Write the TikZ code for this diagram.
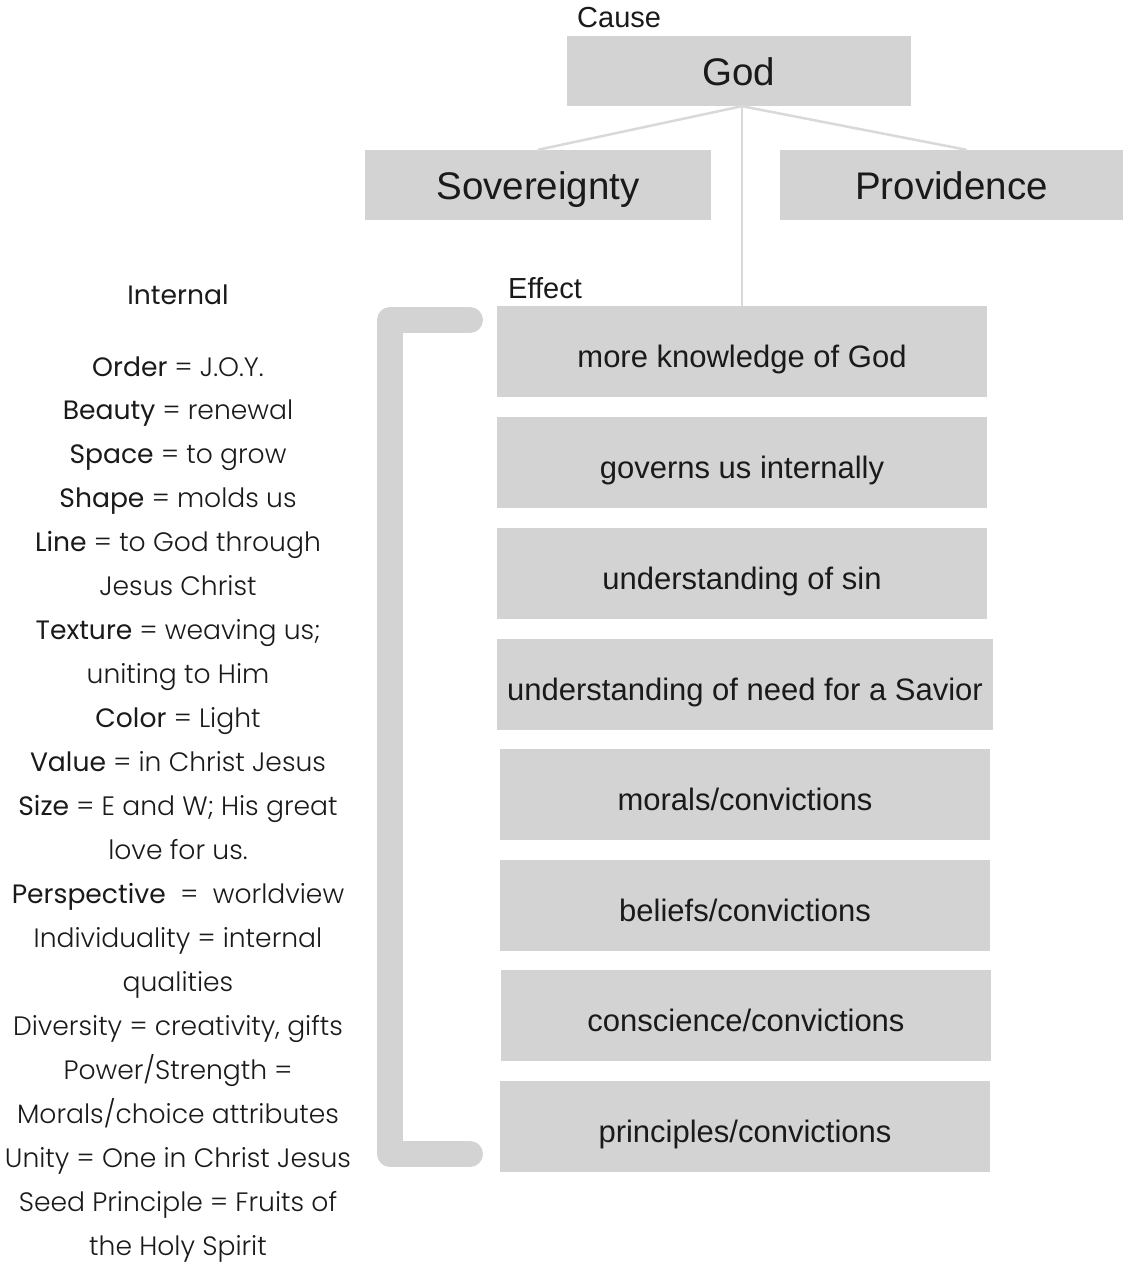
\documentclass[tikz,border=0pt]{standalone}
\usepackage{fontspec}
\setmainfont{Liberation Sans}
\newfontfamily\boxfont{Liberation Sans}
\newfontfamily\leftreg{Poppins}
\newfontfamily\leftlight{Poppins}[UprightFont={* Light}]
\definecolor{boxgray}{HTML}{D3D3D3}
\definecolor{linegray}{HTML}{D9D9D9}
\definecolor{ink}{HTML}{1A1A1A}
\newcommand{\Bw}[1]{{\leftreg #1}}
\begin{document}
\begin{tikzpicture}[x=1pt,y=-1pt,
  gbox/.style={fill=boxgray,draw=none,inner sep=0pt,text=ink,text height=28pt,text depth=0pt,font=\boxfont\fontsize{38.5}{40}\selectfont},
  ebox/.style={fill=boxgray,draw=none,inner sep=0pt,minimum height=91pt,text height=31pt,text depth=0pt,text=ink,font=\boxfont\fontsize{31}{34}\selectfont},
  lbl/.style={inner sep=0pt,text=ink,font=\boxfont\fontsize{29}{31}\selectfont,anchor=west},
  ltext/.style={inner sep=0pt,text=ink,anchor=base,font=\leftlight\fontsize{26.6}{30}\selectfont},
  conn/.style={draw=linegray,line width=2.5pt},
  bracket/.style={draw=boxgray,line width=26pt,line cap=round,line join=round}]
\useasboundingbox (0,0) rectangle (1123,1264);
% top
\node[lbl] (cause) at (577,18) {Cause};
\node[gbox,minimum width=344pt,minimum height=70pt] (god) at (739,71) {God};
\node[gbox,minimum width=346pt,minimum height=70pt] (sov) at (538,185) {Sovereignty};
\node[gbox,minimum width=343pt,minimum height=70pt] (prov) at (951.5,185) {Providence};
\node[lbl] (effect) at (508,288) {Effect};
% effect boxes
\node[ebox,minimum width=490pt] (e1) at (742,351.5) {more knowledge of God};
\node[ebox,minimum width=490pt] (e2) at (742,462.5) {governs us internally};
\node[ebox,minimum width=490pt] (e3) at (742,573.5) {understanding of sin};
\node[ebox,minimum width=496pt] (e4) at (745,684.5) {understanding of need for a Savior};
\node[ebox,minimum width=490pt] (e5) at (745,794.5) {morals/convictions};
\node[ebox,minimum width=490pt] (e6) at (745,905.5) {beliefs/convictions};
\node[ebox,minimum width=490pt] (e7) at (746,1015.5) {conscience/convictions};
\node[ebox,minimum width=490pt] (e8) at (745,1126.5) {principles/convictions};
% connectors
\coordinate (gs) at (god.south -| e1.north);
\draw[conn] (gs) -- (sov.north);
\draw[conn] (gs) -- ([xshift=15pt]prov.north);
\draw[conn] (gs) -- (e1.north);
% bracket
\coordinate (bt) at (470,320);
\coordinate (bb) at (470,1154);
\draw[bracket] (bt) -- (390,320) -- (390,1154) -- (bb);
% left text
\node[ltext,font=\leftreg\fontsize{26.6}{30}\selectfont] (int) at (178,304) {Internal};
\foreach \t [count=\i from 0] in {
  {\Bw{Order} = J.O.Y.},
  {\Bw{Beauty} = renewal},
  {\Bw{Space} = to grow},
  {\Bw{Shape} = molds us},
  {\Bw{Line} = to God through},
  {Jesus Christ},
  {\Bw{Texture} = weaving us;},
  {uniting to Him},
  {\Bw{Color} = Light},
  {\Bw{Value} = in Christ Jesus},
  {\Bw{Size} = E and W; His great},
  {love for us.},
  {\Bw{Perspective}\ \ =\ \ worldview},
  {Individuality = internal},
  {qualities},
  {Diversity = creativity, gifts},
  {Power/Strength =},
  {Morals/choice attributes},
  {Unity = One in Christ Jesus},
  {Seed Principle = Fruits of},
  {the Holy Spirit}}
  \node[ltext] (l\i) at (178,{376+43.95*\i}) {\t};
\end{tikzpicture}
\end{document}
